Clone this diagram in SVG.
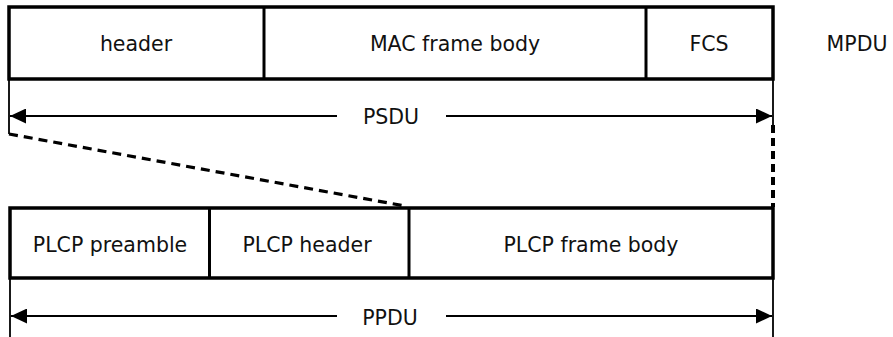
<svg xmlns="http://www.w3.org/2000/svg" width="893" height="337" viewBox="0 0 893 337">
<defs>
<style>
.box{fill:#fff;stroke:#000;stroke-width:3.5}
.div{stroke:#000;stroke-width:3}
.ext{stroke:#000;stroke-width:1.8;fill:none}
.arr{stroke:#000;stroke-width:2.2;fill:none}
.dash{stroke:#000;stroke-width:3.2;fill:none;stroke-dasharray:9 6}
text{font-family:"DejaVu Sans",Verdana,sans-serif;font-size:20.5px;fill:#111;text-anchor:middle}
</style>
<marker id="ah" viewBox="0 0 16 15" refX="16" refY="7.5" markerWidth="16" markerHeight="15" markerUnits="userSpaceOnUse" orient="auto-start-reverse">
<path d="M0,0 L16,7.5 L0,15 Z" fill="#000"/>
</marker>
</defs>
<g id="mpdu">
<rect class="box" x="9" y="7" width="764" height="72"/>
<line class="div" x1="264" y1="7" x2="264" y2="79"/>
<line class="div" x1="646" y1="7" x2="646" y2="79"/>
<text x="136" y="51">header</text>
<text x="455" y="51">MAC frame body</text>
<text x="709" y="51">FCS</text>
<text x="857" y="51">MPDU</text>
</g>
<g id="ppdu">
<rect class="box" x="10" y="208" width="763" height="70"/>
<line class="div" x1="209.5" y1="208" x2="209.5" y2="278"/>
<line class="div" x1="409" y1="208" x2="409" y2="278"/>
<text x="110" y="252">PLCP preamble</text>
<text x="307" y="252">PLCP header</text>
<text x="591" y="252">PLCP frame body</text>
</g>
<g id="connectors">
<line class="ext" x1="9" y1="79" x2="9" y2="134"/>
<line class="ext" x1="773" y1="79" x2="773" y2="125"/>
<line class="arr" x1="337" y1="116" x2="10" y2="116" marker-end="url(#ah)"/>
<line class="arr" x1="446" y1="116" x2="772" y2="116" marker-end="url(#ah)"/>
<text x="391" y="124">PSDU</text>
<path class="dash" d="M9,134 L405,206"/>
<path d="M773,125 L773,207" stroke="#000" stroke-width="4" stroke-dasharray="8 5" fill="none"/>
<line class="ext" x1="10" y1="278" x2="10" y2="337"/>
<line class="ext" x1="773" y1="278" x2="773" y2="337"/>
<line class="arr" x1="337" y1="316" x2="11" y2="316" marker-end="url(#ah)"/>
<line class="arr" x1="446" y1="316" x2="772" y2="316" marker-end="url(#ah)"/>
<text x="390" y="325">PPDU</text>
</g>
</svg>
